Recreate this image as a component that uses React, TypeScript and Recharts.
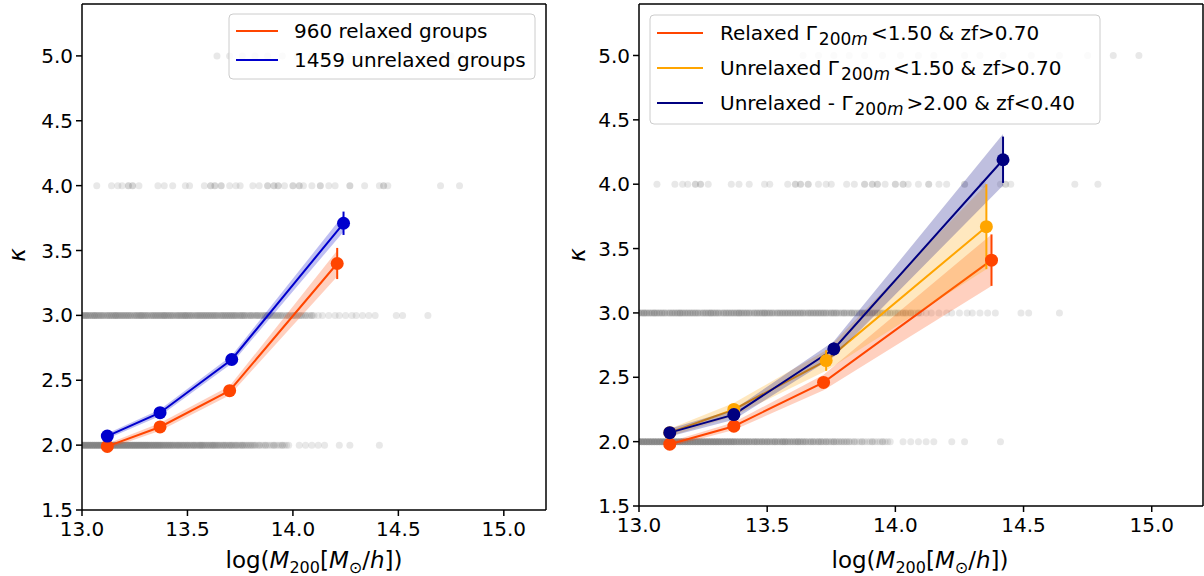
import React from "react";
import { ComposedChart, Line, Area, Scatter, XAxis, YAxis, ErrorBar } from "recharts";

const massTicks = [13.0, 13.5, 14.0, 14.5, 15.0];
const kappaTicks = [1.5, 2.0, 2.5, 3.0, 3.5, 4.0, 4.5, 5.0];

// left panel: relaxed vs unrelaxed
const leftRelaxedMass = [13.12, 13.37, 13.7, 14.21];
const leftRelaxedKappa = [1.99, 2.14, 2.42, 3.4];
const leftRelaxedErr = [0.02, 0.02, 0.03, 0.12];
const leftRelaxedBand = [0.02, 0.03, 0.035, 0.1];
const leftUnrelaxedMass = [13.12, 13.37, 13.71, 14.24];
const leftUnrelaxedKappa = [2.07, 2.25, 2.66, 3.71];
const leftUnrelaxedErr = [0.02, 0.02, 0.03, 0.09];
const leftUnrelaxedBand = [0.02, 0.025, 0.03, 0.065];

// right panel: three selections
const rightRelaxedMass = [13.12, 13.37, 13.72, 14.375];
const rightRelaxedKappa = [1.98, 2.12, 2.46, 3.41];
const rightRelaxedErr = [0.02, 0.02, 0.03, 0.2];
const rightRelaxedBand = [0.02, 0.03, 0.06, 0.2];
const rightOrangeMass = [13.12, 13.37, 13.73, 14.355];
const rightOrangeKappa = [2.07, 2.25, 2.63, 3.67];
const rightOrangeErr = [0.03, 0.04, 0.08, 0.33];
const rightOrangeBand = [0.03, 0.05, 0.08, 0.33];
const rightNavyMass = [13.12, 13.37, 13.76, 14.42];
const rightNavyKappa = [2.07, 2.21, 2.72, 4.19];
const rightNavyErr = [0.02, 0.03, 0.05, 0.18];
const rightNavyBand = [0.03, 0.04, 0.06, 0.2];

// background groups (mass position, how many groups sit there) per integer kappa
const row2Mass = [
  13.0, 13.01, 13.02, 13.03, 13.04, 13.05, 13.06, 13.07, 13.08, 13.09,
  13.1, 13.11, 13.12, 13.13, 13.14, 13.15, 13.16, 13.17, 13.18, 13.19,
  13.2, 13.21, 13.22, 13.23, 13.24, 13.25, 13.26, 13.27, 13.28, 13.29,
  13.3, 13.31, 13.32, 13.33, 13.34, 13.35, 13.36, 13.37, 13.38, 13.39,
  13.4, 13.41, 13.42, 13.43, 13.44, 13.45, 13.46, 13.47, 13.48, 13.49,
  13.5, 13.51, 13.52, 13.53, 13.54, 13.55, 13.56, 13.57, 13.58, 13.59,
  13.6, 13.61, 13.62, 13.63, 13.64, 13.65, 13.66, 13.67, 13.68, 13.69,
  13.7, 13.71, 13.72, 13.73, 13.74, 13.75, 13.76, 13.77, 13.78, 13.79,
  13.8, 13.81, 13.82, 13.83, 13.84, 13.85, 13.86, 13.87, 13.88, 13.89,
  13.9, 13.91, 13.92, 13.93, 13.94, 13.95, 13.96, 13.97, 13.98, 14.03,
  14.06, 14.09, 14.12, 14.15, 14.22, 14.27, 14.41,
];
const row2Count = [
  6, 6, 6, 6, 6, 6, 6, 6, 6, 6,
  6, 6, 6, 6, 6, 6, 6, 6, 6, 6,
  6, 6, 6, 6, 6, 6, 6, 6, 6, 6,
  6, 6, 5, 5, 5, 5, 5, 5, 4, 4,
  4, 4, 4, 4, 3, 4, 4, 3, 4, 3,
  4, 3, 3, 4, 3, 3, 4, 4, 3, 3,
  3, 3, 4, 3, 3, 3, 2, 3, 3, 2,
  3, 3, 2, 3, 2, 2, 3, 2, 2, 2,
  2, 2, 2, 1, 2, 1, 1, 2, 1, 1,
  1, 2, 1, 1, 1, 2, 1, 1, 1, 1,
  1, 1, 1, 1, 1, 1, 1,
];
const row3Mass = [
  13.0, 13.01, 13.02, 13.03, 13.04, 13.05, 13.06, 13.07, 13.08, 13.09,
  13.1, 13.11, 13.12, 13.13, 13.14, 13.15, 13.16, 13.17, 13.18, 13.19,
  13.2, 13.21, 13.22, 13.23, 13.24, 13.25, 13.26, 13.27, 13.28, 13.29,
  13.3, 13.31, 13.32, 13.33, 13.34, 13.35, 13.36, 13.37, 13.38, 13.39,
  13.4, 13.41, 13.42, 13.43, 13.44, 13.45, 13.46, 13.47, 13.48, 13.49,
  13.5, 13.51, 13.52, 13.53, 13.54, 13.55, 13.56, 13.57, 13.58, 13.59,
  13.6, 13.61, 13.62, 13.63, 13.64, 13.65, 13.66, 13.67, 13.68, 13.69,
  13.7, 13.71, 13.72, 13.73, 13.74, 13.75, 13.76, 13.77, 13.78, 13.79,
  13.8, 13.81, 13.82, 13.83, 13.84, 13.85, 13.86, 13.87, 13.88, 13.89,
  13.9, 13.91, 13.92, 13.93, 13.94, 13.95, 13.96, 13.97, 13.98, 13.99,
  14.0, 14.01, 14.02, 14.03, 14.04, 14.05, 14.06, 14.07, 14.08, 14.09,
  14.1, 14.12, 14.14, 14.17, 14.2, 14.22, 14.25, 14.28, 14.3, 14.33,
  14.36, 14.39, 14.49, 14.52, 14.64,
];
const row3Count = [
  3, 3, 4, 3, 3, 3, 4, 3, 3, 3,
  3, 2, 3, 3, 3, 3, 4, 3, 3, 3,
  3, 3, 3, 3, 2, 3, 3, 3, 4, 3,
  3, 3, 2, 3, 3, 3, 3, 3, 3, 4,
  3, 3, 3, 3, 2, 3, 3, 3, 3, 4,
  3, 3, 3, 2, 3, 3, 3, 3, 3, 3,
  3, 3, 3, 3, 3, 2, 3, 3, 3, 3,
  3, 3, 3, 3, 2, 3, 3, 3, 2, 2,
  3, 2, 2, 3, 2, 2, 2, 3, 2, 2,
  2, 2, 2, 2, 2, 2, 1, 2, 2, 1,
  2, 2, 1, 2, 2, 1, 2, 1, 1, 2,
  1, 1, 1, 1, 1, 1, 1, 1, 1, 1,
  1, 1, 1, 1, 1,
];
const row4Mass = [
  13.07, 13.14, 13.17, 13.19, 13.22, 13.24, 13.27, 13.36, 13.39, 13.43,
  13.49, 13.51, 13.58, 13.61, 13.63, 13.66, 13.7, 13.73, 13.75, 13.81,
  13.84, 13.88, 13.91, 13.93, 13.96, 14.0, 14.03, 14.05, 14.09, 14.13,
  14.17, 14.2, 14.27, 14.34, 14.41, 14.43, 14.45, 14.7, 14.79,
];
const row4Count = [
  1, 1, 1, 1, 2, 2, 1, 1, 1, 1,
  1, 1, 1, 2, 2, 2, 1, 1, 1, 1,
  1, 2, 2, 2, 1, 2, 2, 1, 1, 2,
  1, 1, 2, 1, 1, 2, 1, 1, 1,
];
const row5Mass = [
  13.64, 13.7, 13.76, 13.82, 13.88, 13.95, 14.02, 14.09, 14.15, 14.27,
  14.33, 14.42, 14.53, 14.64, 14.75, 14.85, 14.95,
];
const row5Count = [1, 1, 1, 1, 1, 1, 1, 1, 1, 1, 1, 1, 1, 1, 1, 1, 1];

const leftLegendLabels = ["960 relaxed groups", "1459 unrelaxed groups"];
const rightLegendPrefix = ["Relaxed ", "Unrelaxed ", "Unrelaxed - "];
const rightLegendSuffix = ["<1.50 & zf>0.70", "<1.50 & zf>0.70", ">2.00 & zf<0.40"];

const ORANGERED = "#ff4500";
const MEDIUMBLUE = "#0000cd";
const ORANGE = "#ffa500";
const NAVY = "#000080";
const FONT = "DejaVu Sans";

const buildSeries = (mass: number[], kappa: number[], err: number[], band: number[]) =>
  mass.map((x, i) => ({ x, y: kappa[i], err: err[i], band: [kappa[i] - band[i], kappa[i] + band[i]] }));

const buildRow = (level: number, mass: number[], count: number[]) =>
  mass.map((x, i) => ({ x, y: level, n: count[i] }));

const cloud = [
  ...buildRow(2, row2Mass, row2Count),
  ...buildRow(3, row3Mass, row3Count),
  ...buildRow(4, row4Mass, row4Count),
  ...buildRow(5, row5Mass, row5Count),
];

const leftSeries = [
  { color: ORANGERED, data: buildSeries(leftRelaxedMass, leftRelaxedKappa, leftRelaxedErr, leftRelaxedBand) },
  { color: MEDIUMBLUE, data: buildSeries(leftUnrelaxedMass, leftUnrelaxedKappa, leftUnrelaxedErr, leftUnrelaxedBand) },
];
const rightSeries = [
  { color: ORANGERED, data: buildSeries(rightRelaxedMass, rightRelaxedKappa, rightRelaxedErr, rightRelaxedBand) },
  { color: ORANGE, data: buildSeries(rightOrangeMass, rightOrangeKappa, rightOrangeErr, rightOrangeBand) },
  { color: NAVY, data: buildSeries(rightNavyMass, rightNavyKappa, rightNavyErr, rightNavyBand) },
];

// each dot stands for n overlapping translucent markers
const CloudDot = (p: any) => (
  <circle cx={p.cx} cy={p.cy} r={3.5} fill="#808080" fillOpacity={1 - Math.pow(0.82, p.payload?.n ?? 1)} />
);

const tickStyle = { fontSize: 20, fill: "#000", fontFamily: FONT };
const fmt = (v: number) => v.toFixed(1);
const spine = { stroke: "#000", strokeWidth: 1.5 };

function Panel({ width, height, margin, yWidth, series }: any) {
  return (
    <ComposedChart width={width} height={height} margin={margin} style={{ fontFamily: FONT }}>
      <XAxis
        type="number"
        dataKey="x"
        domain={[13, 15.2]}
        ticks={massTicks}
        tickFormatter={fmt}
        allowDataOverflow
        height={60}
        stroke="#000"
        tick={tickStyle}
        tickSize={6}
        tickMargin={6}
        axisLine={spine}
        tickLine={spine}
      />
      <XAxis
        xAxisId="top"
        orientation="top"
        type="number"
        domain={[13, 15.2]}
        allowDataOverflow
        height={1}
        tick={false}
        tickLine={false}
        stroke="#000"
        axisLine={spine}
      />
      <YAxis
        type="number"
        domain={[1.5, 5.4]}
        ticks={kappaTicks}
        tickFormatter={fmt}
        allowDataOverflow
        width={yWidth}
        stroke="#000"
        tick={tickStyle}
        tickSize={6}
        tickMargin={3}
        axisLine={spine}
        tickLine={spine}
      />
      <YAxis
        yAxisId="right"
        orientation="right"
        type="number"
        domain={[1.5, 5.4]}
        allowDataOverflow
        width={1}
        tick={false}
        tickLine={false}
        stroke="#000"
        axisLine={spine}
      />
      <Scatter data={cloud} dataKey="y" shape={CloudDot} isAnimationActive={false} zIndex={50} />
      {series.map((s: any, i: number) => (
        <React.Fragment key={i}>
          <Area
            data={s.data}
            dataKey="band"
            type="linear"
            stroke="none"
            fill={s.color}
            fillOpacity={0.25}
            isAnimationActive={false}
            zIndex={100 + i * 10}
          />
          <Line
            data={s.data}
            dataKey="y"
            type="linear"
            stroke={s.color}
            strokeWidth={2}
            dot={{ r: 6.5, fill: s.color, stroke: s.color, strokeWidth: 0 }}
            isAnimationActive={false}
            zIndex={105 + i * 10}
          >
            <ErrorBar dataKey="err" direction="y" width={0} stroke={s.color} strokeWidth={2} />
          </Line>
        </React.Fragment>
      ))}
    </ComposedChart>
  );
}

function MassLabel({ cx }: { cx: number }) {
  return (
    <text x={cx} y={568} textAnchor="middle" fontSize={23} fontFamily={FONT} fill="#000">
      log(
      <tspan fontStyle="italic">M</tspan>
      <tspan fontSize={16} dy={5}>200</tspan>
      <tspan dy={-5}>[</tspan>
      <tspan fontStyle="italic">M</tspan>
      <tspan fontSize={16} dy={5}>⊙</tspan>
      <tspan dy={-5}>/</tspan>
      <tspan fontStyle="italic">h</tspan>
      ])
    </text>
  );
}

function KappaLabel({ cx }: { cx: number }) {
  return (
    <text
      transform={`translate(${cx},255) rotate(-90)`}
      textAnchor="middle"
      dominantBaseline="central"
      fontSize={23}
      fontStyle="italic"
      fontFamily={FONT}
      fill="#000"
    >
      κ
    </text>
  );
}

export default function App() {
  const leftColors = [ORANGERED, MEDIUMBLUE];
  const rightColors = [ORANGERED, ORANGE, NAVY];
  return (
    <div style={{ position: "absolute", left: 0, top: 0, width: 1204, height: 576, background: "#fff", fontFamily: FONT }}>
      <div style={{ position: "absolute", left: 0, top: 0 }}>
        <Panel width={560} height={576} margin={{ top: 3, right: 13, bottom: 6, left: 22 }} yWidth={60} series={leftSeries} />
      </div>
      <div style={{ position: "absolute", left: 580, top: 0 }}>
        <Panel width={624} height={576} margin={{ top: 3, right: 0, bottom: 10, left: 14 }} yWidth={45} series={rightSeries} />
      </div>
      <svg width={1204} height={576} style={{ position: "absolute", left: 0, top: 0, pointerEvents: "none" }}>
        <MassLabel cx={314} />
        <MassLabel cx={920} />
        <KappaLabel cx={17} />
        <KappaLabel cx={577} />

        <rect x={229} y={14} width={306} height={65} rx={4} fill="#fff" fillOpacity={0.8} stroke="#cccccc" strokeWidth={1} />
        {leftLegendLabels.map((label, i) => (
          <g key={label}>
            <line x1={236} x2={278} y1={31 + i * 29} y2={31 + i * 29} stroke={leftColors[i]} strokeWidth={2} />
            <text x={294} y={31 + i * 29 + 7} fontSize={20} fontFamily={FONT} fill="#000">
              {label}
            </text>
          </g>
        ))}

        <rect x={650} y={15} width={450} height={109} rx={4} fill="#fff" fillOpacity={0.8} stroke="#cccccc" strokeWidth={1} />
        {rightLegendPrefix.map((prefix, i) => (
          <g key={i}>
            <line x1={657} x2={703} y1={33 + i * 35} y2={33 + i * 35} stroke={rightColors[i]} strokeWidth={2} />
            <text x={720} y={33 + i * 35 + 7} fontSize={20} fontFamily={FONT} fill="#000">
              {prefix}Γ
              <tspan fontSize={17} dy={5} dx={2}>200</tspan>
              <tspan fontSize={17} fontStyle="italic">m</tspan>
              <tspan dy={-5} dx={3}>{rightLegendSuffix[i]}</tspan>
            </text>
          </g>
        ))}
      </svg>
    </div>
  );
}
